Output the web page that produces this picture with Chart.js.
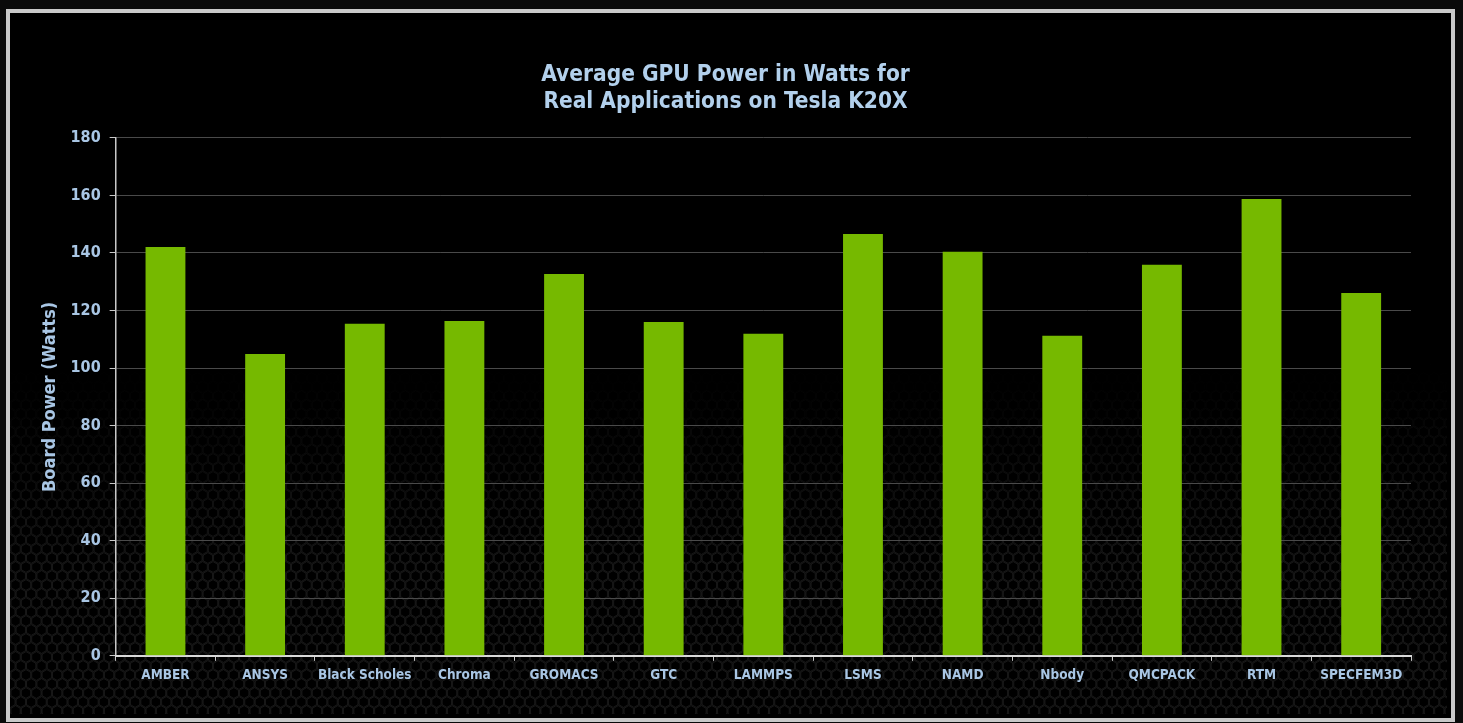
<!DOCTYPE html>
<html>
<head>
<meta charset="utf-8">
<script src="https://cdn.jsdelivr.net/npm/chart.js@4"></script>
<style>
  html, body { margin:0; padding:0; background:#0a0a0a; width:1463px; height:723px; overflow:hidden; }
  #frame { position:absolute; left:6px; top:9px; width:1441px; height:705px; border:4px solid #c9c9c9; background:#000; }
  #wrap { position:absolute; left:0; top:0; width:1463px; height:723px; }
</style>
</head>
<body>
<div id="frame"></div>
<div id="wrap"><canvas id="c" width="1463" height="723"></canvas></div>
<script>
const categories = ["AMBER","ANSYS","Black Scholes","Chroma","GROMACS","GTC","LAMMPS","LSMS","NAMD","Nbody","QMCPACK","RTM","SPECFEM3D"];
const boardPower = [142.1, 104.9, 115.4, 116.4, 132.7, 116.0, 111.9, 146.6, 140.4, 111.2, 135.9, 158.8, 126.1];
const yTicks = [0,20,40,60,80,100,120,140,160,180];
const titleLines = ["Average GPU Power in Watts for", "Real Applications on Tesla K20X"];
const yAxisTitle = "Board Power (Watts)";

const labelBlue = '#a9c6e4';

const hexPlugin = {
  id: 'hexbg',
  beforeDraw(chart) {
    const ctx = chart.ctx;
    ctx.save();
    ctx.beginPath();
    ctx.rect(10, 13, 1437, 701);
    ctx.clip();
    const r = 6;
    const w = Math.sqrt(3) * r;
    const h = 1.5 * r;
    for (let row = 0; row * h < 723; row++) {
      const y = row * h;
      if (y < 360) continue;
      const a = Math.min(1, (y - 360) / 200) * 0.15;
      ctx.strokeStyle = 'rgba(200,200,200,' + a.toFixed(3) + ')';
      ctx.lineWidth = 0.8;
      const off = (row % 2) ? w / 2 : 0;
      for (let x = off; x < 1463; x += w) {
        ctx.beginPath();
        for (let k = 0; k < 6; k++) {
          const ang = Math.PI / 3 * k + Math.PI / 6;
          const px = x + r * 0.9 * Math.cos(ang), py = y + r * 0.9 * Math.sin(ang);
          if (k === 0) ctx.moveTo(px, py); else ctx.lineTo(px, py);
        }
        ctx.closePath();
        ctx.stroke();
      }
    }
    ctx.restore();
  }
};

new Chart(document.getElementById('c'), {
  type: 'bar',
  data: {
    labels: categories,
    datasets: [{
      data: boardPower,
      backgroundColor: '#76b900',
      borderWidth: 0,
      barPercentage: 0.8,
      categoryPercentage: 0.5
    }]
  },
  plugins: [hexPlugin],
  options: {
    responsive: false,
    animation: false,
    layout: { padding: { left: 40, right: 52, top: 61, bottom: 32 } },
    plugins: {
      legend: { display: false },
      tooltip: { enabled: false },
      title: {
        display: true,
        text: titleLines,
        color: '#b2d0ec',
        font: { family: 'DejaVu Sans Condensed', size: 22.5, weight: 'bold', lineHeight: 1.22 },
        padding: { top: 0, bottom: 22 }
      }
    },
    scales: {
      y: {
        min: 0, max: 180,
        afterBuildTicks(axis) { axis.ticks = yTicks.map(v => ({ value: v })); },
        ticks: {
          color: labelBlue,
          font: { family: 'DejaVu Sans Condensed', size: 16, weight: 'bold' },
          padding: 9
        },
        grid: { color: '#4a4a4a', lineWidth: 1, tickColor: '#c8c8c8', tickLength: 6 },
        border: { color: '#c8c8c8', width: 1.5 },
        title: {
          display: true,
          text: yAxisTitle,
          color: labelBlue,
          font: { family: 'DejaVu Sans Condensed', size: 18, weight: 'bold' },
          padding: { top: 0, bottom: 0 }
        }
      },
      x: {
        ticks: {
          color: labelBlue,
          font: { family: 'DejaVu Sans Condensed', size: 13.5, weight: 'bold' },
          padding: 7,
          maxRotation: 0,
          autoSkip: false
        },
        grid: { drawOnChartArea: false, drawTicks: true, tickLength: 5, tickColor: '#c8c8c8', offset: true },
        border: { color: '#d8d8d8', width: 2 }
      }
    }
  }
});
</script>
</body>
</html>
